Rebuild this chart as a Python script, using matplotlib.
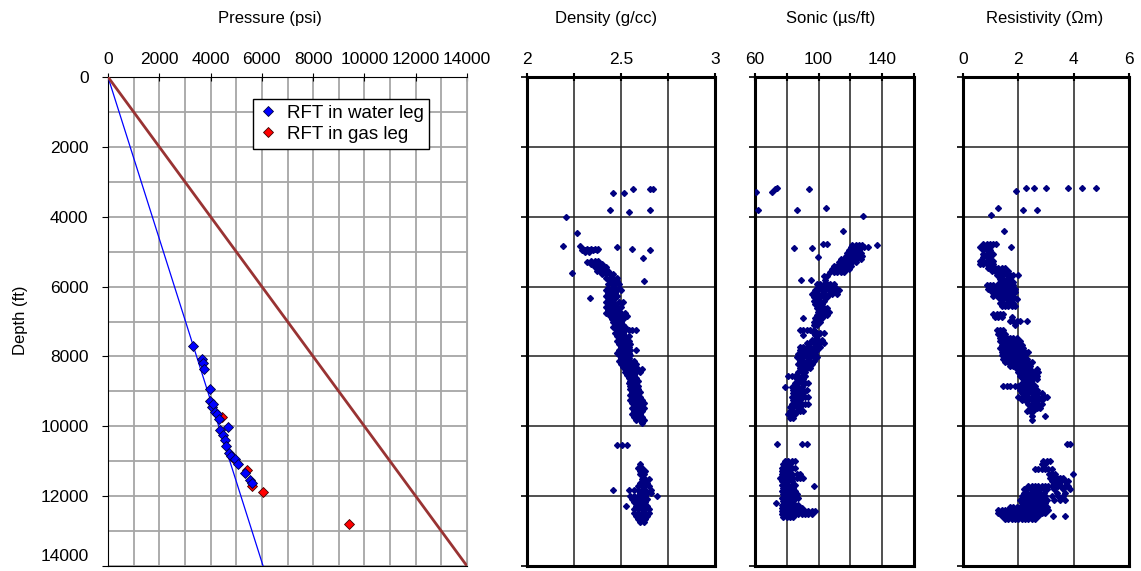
import matplotlib.pyplot as plt
from matplotlib.transforms import ScaledTranslation

plt.rcParams['font.family'] = ['Liberation Sans', 'DejaVu Sans']
plt.rcParams['font.size'] = 12

W, H = 1141, 571

# RFT pressure points (psi) against depth (ft)
water_psi = [3300, 3650, 3720, 3750, 3980, 3990, 4040, 4100, 4170, 4250, 4330, 4690,
             4370, 4470, 4560, 4600, 4710, 4800, 4950, 5080, 5340, 5540, 5600]
water_depth = [7690, 8080, 8200, 8370, 8940, 9290, 9440, 9350, 9580, 9650, 9790, 10010,
               10110, 10250, 10390, 10560, 10770, 10850, 10950, 11080, 11330, 11540, 11620]
gas_psi = [4430, 4890, 5410, 5620, 6030, 9410]
gas_depth = [9720, 10920, 11250, 11700, 11880, 12800]

# gradient lines (psi/ft)
water_grad = 0.432
overburden_grad = 1.0
max_depth = 14000

# log readings: (depth ft, [values at that depth])
dens_rows = [
    (3215, [2.565, 2.654, 2.671]), (3310, [2.456, 2.518]), (3810, [2.441, 2.654]),
    (3860, [2.544]), (4020, [2.206]), (4460, [2.264]), (4840, [2.193, 2.282]),
    (4870, [2.477]), (4920, [2.30, 2.32, 2.34, 2.36, 2.38, 2.557]),
    (4960, [2.29, 2.31, 2.33, 2.35, 2.37, 2.654]), (5000, [2.31, 2.33]),
    (5190, [2.615]), (5290, [2.317]), (5270, [2.34, 2.36, 2.38]),
    (5360, [2.34, 2.36, 2.38, 2.40]), (5450, [2.36, 2.38, 2.40, 2.42]),
    (5550, [2.37, 2.39, 2.41, 2.43]), (5600, [2.241]), (5650, [2.40, 2.42, 2.44, 2.46]),
    (5750, [2.42, 2.44, 2.46, 2.48]), (5840, [2.44, 2.46, 2.48, 2.62]),
    (5930, [2.43, 2.45, 2.47, 2.49]), (6030, [2.43, 2.45, 2.47, 2.49]),
    (6110, [2.42, 2.44, 2.46, 2.48, 2.50]), (6190, [2.43, 2.45, 2.47]),
    (6270, [2.42, 2.44, 2.46, 2.48]), (6340, [2.335, 2.43, 2.45, 2.47]),
    (6430, [2.42, 2.44, 2.46, 2.49, 2.51]), (6510, [2.43, 2.45, 2.47]),
    (6590, [2.42, 2.44, 2.46, 2.48, 2.50]), (6680, [2.43, 2.46, 2.48]),
    (6770, [2.42, 2.44, 2.46, 2.48, 2.50, 2.52]), (6850, [2.44, 2.46, 2.48, 2.51, 2.53]),
    (6930, [2.45, 2.47, 2.49, 2.51]), (7010, [2.46, 2.48, 2.50]),
    (7090, [2.47, 2.49, 2.51]), (7170, [2.46, 2.48, 2.50, 2.52]),
    (7250, [2.48, 2.50, 2.52, 2.54, 2.56, 2.58]), (7330, [2.47, 2.49, 2.51]),
    (7410, [2.48, 2.50, 2.52, 2.54]), (7490, [2.49, 2.51, 2.53]),
    (7570, [2.48, 2.50, 2.52, 2.54]), (7650, [2.49, 2.51, 2.53, 2.55]),
    (7730, [2.50, 2.52, 2.54]), (7810, [2.49, 2.51, 2.53, 2.55, 2.58]),
    (7890, [2.48, 2.50, 2.52, 2.54]), (7970, [2.49, 2.51, 2.53, 2.55]),
    (8050, [2.50, 2.52, 2.54]), (8130, [2.49, 2.51, 2.53, 2.55, 2.57]),
    (8210, [2.50, 2.52, 2.54, 2.56, 2.58]), (8290, [2.51, 2.53, 2.55, 2.57]),
    (8370, [2.52, 2.54, 2.56, 2.59, 2.61]), (8450, [2.52, 2.54, 2.56, 2.58, 2.60]),
    (8530, [2.53, 2.55, 2.57]), (8610, [2.54, 2.56, 2.58]), (8690, [2.55, 2.57, 2.59]),
    (8770, [2.54, 2.56, 2.58]), (8850, [2.55, 2.57, 2.59]), (8930, [2.55, 2.57, 2.59]),
    (9010, [2.56, 2.58, 2.60]), (9090, [2.55, 2.57, 2.59]), (9170, [2.56, 2.58, 2.60]),
    (9250, [2.55, 2.57, 2.59, 2.61]), (9330, [2.56, 2.58, 2.60, 2.62]),
    (9410, [2.57, 2.59, 2.61]), (9490, [2.56, 2.58, 2.60, 2.62]),
    (9570, [2.57, 2.59, 2.61]), (9650, [2.56, 2.58, 2.60]), (9730, [2.57, 2.59, 2.61]),
    (9810, [2.58, 2.60, 2.62]), (9900, [2.61]),
    (10540, [2.477, 2.504, 2.530]), (11090, [2.60]), (11180, [2.59, 2.61]),
    (11280, [2.60, 2.62, 2.63]), (11380, [2.60, 2.62]), (11520, [2.61, 2.63, 2.65]),
    (11620, [2.60, 2.62, 2.64]), (11720, [2.59, 2.61, 2.63, 2.65]),
    (11820, [2.456, 2.544, 2.57, 2.59, 2.61, 2.63, 2.66]), (11920, [2.60, 2.62, 2.64, 2.66]),
    (12000, [2.55, 2.57, 2.59, 2.61, 2.63, 2.69]), (12080, [2.56, 2.58, 2.60, 2.62, 2.64]),
    (12180, [2.57, 2.59, 2.61, 2.63]), (12280, [2.527, 2.58, 2.60, 2.62, 2.64]),
    (12380, [2.57, 2.59, 2.61, 2.63, 2.65]), (12470, [2.57, 2.59, 2.61, 2.63, 2.65]),
    (12560, [2.58, 2.60, 2.62, 2.64]), (12650, [2.59, 2.61, 2.63]), (12730, [2.60, 2.62]),
]

sonic_rows = [
    (3170, [73.6]), (3200, [72.6, 94.2]), (3280, [60.6, 70.5]), (3760, [104.7]),
    (3820, [62.1, 86.2]), (3970, [128.1]), (4410, [115.5]), (4790, [103.0, 105.5]),
    (4905, [84.8, 95.7]), (5150, [99.4]),
    (4800, [121.2, 123.3, 125.4, 127.5, 136.5]), (4870, [120.2, 122.3, 124.4, 126.5, 128.7, 130.8]),
    (4950, [119.1, 121.2, 123.3, 125.4]), (5040, [118.1, 120.2, 122.3, 124.4, 126.5]),
    (5130, [117.0, 119.1, 121.2, 123.3, 125.4, 127.5]),
    (5220, [113.8, 116.0, 118.1, 120.2, 122.3, 124.4, 126.5]),
    (5310, [112.8, 114.9, 117.0, 119.1, 121.2, 123.3]),
    (5400, [109.6, 111.7, 113.8, 116.0, 118.1, 120.2]),
    (5490, [108.5, 110.6, 112.8, 114.9, 117.0, 119.1]),
    (5580, [107.4, 109.6, 111.7, 113.8, 116.0]), (5700, [103.2, 105.3]),
    (5800, [88.7, 95.0, 104.2]), (5920, [98.9, 101.1, 103.2, 105.3, 107.4, 109.6]),
    (6010, [99.9, 102.1, 104.2, 106.4, 108.5, 110.6]),
    (6100, [97.8, 99.9, 102.1, 104.2, 106.4, 108.5, 110.6, 112.8]),
    (6200, [95.7, 97.8, 99.9, 102.1, 104.2, 106.4, 108.5, 111.7]),
    (6300, [96.8, 98.9, 101.1, 103.2, 105.3]), (6400, [96.8, 98.9, 101.1, 103.2]),
    (6500, [97.8, 99.9, 102.1]), (6620, [98.9, 101.1, 103.2, 105.3]),
    (6720, [99.9, 102.1, 104.2, 106.4]), (6800, [98.9, 101.1, 103.2, 105.3]),
    (6900, [90.4, 97.8, 99.9, 102.1]), (7000, [96.8, 98.9, 101.1]), (7100, [96.8, 98.9]),
    (7230, [88.4, 90.5, 92.6, 94.7, 96.8]), (7330, [96.8, 98.9, 101.1, 103.2]),
    (7390, [90.2, 97.8, 99.9]), (7530, [95.7, 97.8, 99.9, 102.1]),
    (7620, [92.6, 94.7, 96.8, 98.9, 101.1, 103.2]),
    (7720, [88.4, 90.5, 92.6, 94.7, 96.8, 98.9, 101.1]),
    (7820, [88.4, 90.5, 92.6, 94.7, 96.8, 98.9]), (7920, [87.3, 89.4, 91.5, 93.6, 95.7, 97.8]),
    (8020, [86.2, 88.4, 90.5, 92.6, 94.7, 96.8, 98.9]), (8120, [88.4, 90.5, 92.6, 94.7, 96.8]),
    (8220, [87.3, 89.4, 91.5, 93.6, 95.7]), (8330, [88.4, 90.5, 92.6, 94.7]),
    (8440, [87.3, 89.4, 91.5]), (8550, [80.9, 83.0, 85.2, 87.3, 89.4, 91.5]),
    (8650, [86.2, 88.4, 90.5]), (8750, [85.2, 87.3, 89.4, 91.5, 93.6]),
    (8870, [78.9, 83.0, 85.2, 87.3, 89.4]), (8960, [84.1, 86.2, 88.4, 90.5, 92.6]),
    (9060, [84.1, 86.2, 88.4, 90.5]), (9160, [83.0, 85.2, 87.3, 89.4, 91.5, 93.6]),
    (9260, [84.1, 86.2, 88.4]), (9360, [83.0, 85.2, 87.3, 89.4, 91.5, 93.6]),
    (9460, [82.0, 84.1, 86.2, 88.4]), (9560, [82.0, 84.1, 86.2, 88.4, 90.5]),
    (9660, [81.0, 83.0, 85.2]), (9760, [82.0, 84.1]),
    (10500, [74.0, 89.4, 92.6]), (11000, [78.9, 81.0, 83.0, 85.2]),
    (11090, [77.8, 79.9, 82.0]), (11190, [76.8, 78.9, 81.0, 83.0, 85.2]),
    (11290, [76.8, 78.9, 81.0]), (11380, [76.8, 78.9, 81.0, 83.0, 86.2, 88.4]),
    (11480, [75.7, 77.8, 79.9, 82.0, 84.1, 86.2, 88.4, 90.5]),
    (11570, [76.8, 78.9, 81.0, 83.0]), (11670, [76.8, 78.9, 81.0, 83.0, 85.2]),
    (11710, [96.8]), (11760, [77.8, 79.9, 82.0, 84.1]),
    (11860, [76.8, 78.9, 81.0, 83.0, 85.2]), (11950, [77.8, 79.9, 82.0, 84.1, 86.2]),
    (12050, [76.8, 78.9, 81.0, 83.0, 85.2, 87.3]), (12140, [77.8, 79.9, 82.0, 84.1]),
    (12205, [73.0]), (12240, [76.8, 78.9, 81.0, 83.0, 85.2, 87.3]),
    (12330, [76.8, 78.9, 81.0, 83.0, 85.2, 87.3, 89.4]),
    (12420, [76.8, 78.9, 81.0, 83.0, 85.2, 87.3, 89.4, 91.5, 93.6, 95.7, 97.8]),
    (12520, [76.8, 78.9, 81.0, 83.0, 85.2, 87.3, 89.4, 91.5, 93.6, 95.7]),
    (12610, [77.8, 79.9, 82.0, 84.1]),
]

res_rows = [
    (3170, [2.265, 2.578, 2.99, 3.807, 4.29, 4.81]), (3260, [1.915]), (3760, [1.277]),
    (3810, [2.18, 2.675]), (3960, [1.012]), (4410, [1.482]),
    (4770, [0.735, 0.855, 0.976, 1.096, 1.193]), (4860, [0.614, 0.735, 0.855, 0.976, 1.735]),
    (4960, [0.735, 0.855, 0.976]), (5060, [0.735, 0.855, 0.976, 1.096]),
    (5160, [0.735, 0.855, 0.976]), (5260, [0.614, 0.735, 0.855, 0.976, 1.096]),
    (5360, [0.614, 0.735, 0.855, 0.976, 1.096]),
    (5460, [0.915, 1.036, 1.157, 1.277, 1.398, 1.518]),
    (5560, [1.036, 1.157, 1.277, 1.398, 1.518, 1.639]),
    (5670, [1.217, 1.337, 1.458, 1.578, 1.699, 1.819, 2.0]),
    (5770, [1.337, 1.458, 1.578, 1.699]), (5860, [1.337, 1.458, 1.578, 1.699, 1.819]),
    (5960, [0.855, 0.976, 1.096, 1.217, 1.337, 1.458, 1.578, 1.699, 1.819]),
    (6060, [0.915, 1.036, 1.157, 1.277, 1.398, 1.518, 1.639, 1.76, 1.88]),
    (6160, [1.036, 1.157, 1.277, 1.398, 1.518, 1.639, 1.76, 1.88]),
    (6260, [1.096, 1.217, 1.337, 1.458, 1.578, 1.699, 1.819]),
    (6360, [1.337, 1.458, 1.578, 1.699, 1.819, 1.94]),
    (6460, [1.337, 1.458, 1.578, 1.699, 1.819]), (6560, [1.398, 1.518, 1.639, 1.76, 1.88]),
    (6780, [1.096, 1.217, 1.337, 1.458]), (6860, [1.157, 1.277, 1.398, 1.76]),
    (6990, [1.699, 1.819, 1.94, 2.06, 2.30]), (7090, [1.88]),
    (7250, [1.217, 1.337, 1.458]), (7350, [1.277, 1.398, 1.518]),
    (7460, [1.337, 1.458, 1.578, 1.699, 1.819, 1.94]),
    (7560, [1.337, 1.458, 1.578, 1.699, 1.819, 1.94, 2.06]),
    (7660, [1.398, 1.518, 1.639, 1.76, 1.88, 2.0, 2.12]),
    (7760, [1.337, 1.458, 1.578, 1.699, 1.819, 1.94, 2.06, 2.181]),
    (7860, [1.398, 1.518, 1.639, 1.76, 1.88, 2.0, 2.12, 2.24, 2.36]),
    (7960, [1.398, 1.518, 1.639, 1.76, 1.88, 2.0, 2.12, 2.24]),
    (8060, [1.458, 1.578, 1.699, 1.819, 1.94, 2.06, 2.181, 2.30]),
    (8160, [1.518, 1.639, 1.76, 1.88, 2.0, 2.12, 2.24, 2.36, 2.48]),
    (8260, [1.699, 1.819, 1.94, 2.06, 2.181, 2.30, 2.42]),
    (8360, [1.94, 2.06, 2.181, 2.30, 2.42, 2.663]),
    (8460, [2.0, 2.12, 2.24, 2.36, 2.48, 2.60, 2.72]),
    (8560, [2.06, 2.181, 2.30, 2.42, 2.542, 2.663]),
    (8660, [2.181, 2.30, 2.42, 2.542, 2.663]), (8760, [2.12, 2.24, 2.36, 2.48]),
    (8860, [1.458, 1.578, 1.699, 1.88, 2.0, 2.12, 2.24, 2.36, 2.48, 2.60]),
    (8960, [2.06, 2.181, 2.30, 2.42, 2.542, 2.663]),
    (9060, [2.12, 2.24, 2.36, 2.48, 2.60, 2.72, 2.84]),
    (9160, [2.0, 2.12, 2.24, 2.36, 2.48, 2.60, 2.72, 2.84, 2.96, 3.02]),
    (9260, [2.12, 2.24, 2.36, 2.48, 2.60, 2.72, 2.84]),
    (9360, [2.36, 2.48, 2.60, 2.72, 2.84]), (9470, [2.42, 2.542, 2.663, 2.783]),
    (9570, [2.301, 2.422, 2.542]), (9700, [2.48, 2.96]), (9820, [2.48]),
    (10500, [3.76, 3.88]), (10990, [2.9, 3.02, 3.14]), (11090, [2.84, 2.96]),
    (11230, [2.6, 2.72, 2.84, 2.96, 3.08, 3.2]), (11375, [3.1, 3.22, 3.34, 3.99]),
    (11470, [3.14, 3.26, 3.38, 3.5, 3.62]), (11570, [3.2, 3.32, 3.44, 3.56, 3.68, 3.8]),
    (11710, [2.36, 2.48, 2.6, 2.72, 2.84, 2.96, 3.08, 3.2, 3.32, 3.44, 3.56, 3.68, 3.8]),
    (11800, [2.2, 2.32, 2.44, 2.56, 2.68, 2.8, 2.92, 3.04, 3.3, 3.6, 3.85]),
    (11900, [2.2, 2.32, 2.44, 2.56, 2.68, 2.8, 2.92, 3.4, 3.7]),
    (12000, [2.12, 2.24, 2.36, 2.48, 2.6, 2.72, 2.84, 2.96, 3.2, 3.45, 3.6]),
    (12100, [2.06, 2.18, 2.3, 2.42, 2.54, 2.66, 2.78, 2.9, 3.02, 3.3, 3.5, 3.68]),
    (12200, [2.12, 2.24, 2.36, 2.48, 2.6, 2.72, 2.84, 2.96]),
    (12300, [1.7, 1.82, 1.94, 2.06, 2.18, 2.3, 2.42, 2.54, 2.66, 2.78, 2.9, 3.02]),
    (12400, [1.28, 1.4, 1.52, 1.64, 1.76, 1.88, 2.0, 2.12, 2.24, 2.36, 2.48, 2.6, 2.72, 2.84, 2.96, 3.08]),
    (12490, [1.28, 1.4, 1.52, 1.64, 1.76, 1.88, 2.0, 2.12, 2.24, 2.36, 2.48, 2.6, 2.72, 2.84, 2.96]),
    (12570, [1.4, 1.52, 1.64, 1.76, 1.88, 2.0, 2.12, 2.24, 2.36, 2.48, 2.6, 2.72, 3.27, 3.69]),
    (12650, [1.52, 1.64, 1.76, 1.88, 2.0, 2.12, 2.24, 2.36, 2.48, 2.6]),
]


def flatten(rows):
    depth, vals = [], []
    for z, row in rows:
        depth += [z] * len(row)
        vals += row
    return depth, vals


def box(left, top, right, bottom):
    """pixel edges -> figure fraction rect"""
    return [left / W, 1 - bottom / H, (right - left) / W, (bottom - top) / H]


fig = plt.figure(figsize=(W / 100, H / 100), dpi=100)

# pressure-depth plot
ax = fig.add_axes(box(108, 77, 467, 566))
ax.plot([0, water_grad * max_depth], [0, max_depth], color='#0000ff', lw=0.9, zorder=3)
ax.plot([0, overburden_grad * max_depth], [0, max_depth], color='#993333', lw=2, zorder=3)
ax.plot(gas_psi, gas_depth, 'D', ms=5.6, color='#ff0000', mec='#400000', mew=0.6,
        ls='none', label='RFT in gas leg', zorder=4)
ax.plot(water_psi, water_depth, 'D', ms=5.6, color='#0000ff', mec='#000040', mew=0.6,
        ls='none', label='RFT in water leg', zorder=5)
ax.set_xlim(0, 14000)
ax.set_ylim(max_depth, 0)
ax.xaxis.tick_top()
ax.set_xticks(range(0, 14001, 2000))
ax.set_yticks(range(0, 14001, 2000))
ax.set_xticks(range(0, 14001, 1000), minor=True)
ax.set_yticks(range(0, 14001, 1000), minor=True)
ax.grid(which='both', color='#a6a6a6', lw=1.3)
ax.set_axisbelow(True)
ax.tick_params(axis='x', which='major', direction='inout', length=6, pad=4, labelsize=12.5)
ax.tick_params(axis='y', which='major', direction='out', length=4, pad=10, labelsize=12.5)
ax.tick_params(which='minor', length=0)
for s in ['left', 'top', 'bottom']:
    ax.spines[s].set_color('black')
ax.spines['right'].set_color('#a6a6a6')
# bottom depth label sits a little above its tick, as in the original
last = ax.yaxis.get_major_ticks()[-1].label1
last.set_transform(last.get_transform() + ScaledTranslation(0, 8 / 72, fig.dpi_scale_trans))

h, l = ax.get_legend_handles_labels()
leg = ax.legend(h[::-1], l[::-1], loc='upper left', bbox_to_anchor=(253 / W, 1 - 99 / H),
                bbox_transform=fig.transFigure, borderaxespad=0, fancybox=False,
                framealpha=1, edgecolor='black', handletextpad=0.5, handlelength=1.0,
                borderpad=0.3, labelspacing=0.22, fontsize=13.5)
leg.get_frame().set_linewidth(1)

fig.text(270 / W, 1 - 18 / H, 'Pressure (psi)', ha='center', va='center')
fig.text(20 / W, 1 - 320 / H, 'Depth (ft)', ha='center', va='center', rotation=90)

# log tracks
tracks = [
    (box(527, 77, 715, 566), dens_rows, (2, 3), [2, 2.25, 2.5, 2.75, 3],
     ['2', '', '2.5', '', '3'], 'Density (g/cc)', 606),
    (box(755, 77, 914, 566), sonic_rows, (60, 160), [60, 80, 100, 120, 140, 160],
     ['60', '', '100', '', '140', ''], 'Sonic (\u00b5s/ft)', 831),
    (box(963, 77, 1129, 566), res_rows, (0, 6), [0, 2, 4, 6],
     ['0', '2', '4', '6'], 'Resistivity (\u03a9m)', 1045),
]
for rect, rows, lim, ticks, labels, title, tx in tracks:
    t = fig.add_axes(rect)
    depth, vals = flatten(rows)
    t.plot(vals, depth, 'D', ms=3.0, color='#000080', ls='none', zorder=3)
    t.set_xlim(*lim)
    t.set_ylim(max_depth, 0)
    t.xaxis.tick_top()
    t.set_xticks(ticks)
    t.set_xticklabels(labels)
    t.set_yticks(range(0, 14001, 2000))
    t.set_yticklabels([])
    t.grid(color='#202020', lw=1.1)
    t.set_axisbelow(True)
    t.tick_params(axis='x', direction='inout', length=6, width=1.5, pad=4, labelsize=12.5)
    t.tick_params(axis='y', direction='out', length=4, width=1.2)
    for s in t.spines.values():
        s.set_linewidth(2.2)
        s.set_color('black')
    fig.text(tx / W, 1 - 18 / H, title, ha='center', va='center')

fig.savefig('out.png', dpi=100)
